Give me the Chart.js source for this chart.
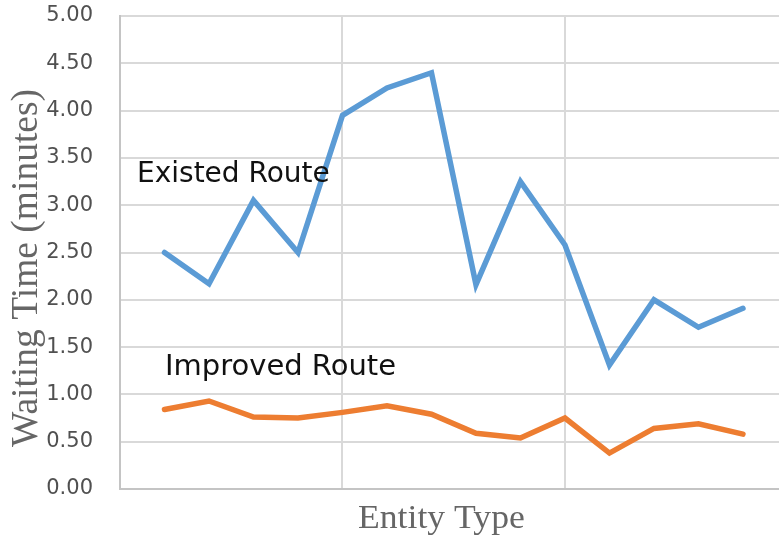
<!DOCTYPE html>
<html><head><meta charset="utf-8">
<script src="https://cdn.jsdelivr.net/npm/chart.js@4.4.1/dist/chart.umd.min.js"></script>
<style>html,body{margin:0;padding:0;background:#fff;overflow:hidden}#wrap{width:779px;height:541px;position:relative}</style>
</head><body><div id="wrap"><canvas id="c" width="779" height="541"></canvas></div>
<script>
const categories = [1, 2, 3, 4, 5, 6, 7, 8, 9, 10, 11, 12, 13, 14];
const existedRoute = [2.50, 2.17, 3.05, 2.50, 3.95, 4.24, 4.40, 2.16, 3.25, 2.58, 1.31, 2.00, 1.71, 1.91];
const improvedRoute = [0.84, 0.93, 0.76, 0.75, 0.81, 0.88, 0.79, 0.59, 0.54, 0.75, 0.38, 0.64, 0.69, 0.58];
const seriesNames = ['Existed Route', 'Improved Route'];
const xTitle = 'Entity Type';
const yTitle = 'Waiting Time (minutes)';

const textPlugin = {
  id: 'texts',
  afterDraw(chart) {
    const ctx = chart.ctx;
    ctx.save();
    ctx.fillStyle = '#111111';
    ctx.textBaseline = 'alphabetic';
    ctx.textAlign = 'left';
    ctx.font = '28px "DejaVu Sans"';
    ctx.fillText(seriesNames[0], 137, 182);
    ctx.font = '29px "DejaVu Sans"';
    ctx.fillText(seriesNames[1], 165, 375);
    ctx.fillStyle = '#666666';
    ctx.font = '33px "Liberation Serif"';
    ctx.save();
    ctx.translate(358, 528);
    ctx.scale(1.08, 1);
    ctx.fillText(xTitle, 0, 0);
    ctx.restore();
    ctx.save();
    ctx.font = '37.5px "Liberation Serif"';
    ctx.translate(37, 447);
    ctx.rotate(-Math.PI / 2);
    ctx.fillText(yTitle, 0, 0);
    ctx.restore();
    ctx.restore();
  }
};

new Chart(document.getElementById('c'), {
  type: 'line',
  data: {
    datasets: [
      {
        label: seriesNames[0],
        data: categories.map((c, i) => ({x: c, y: existedRoute[i]})),
        borderColor: '#5b9bd5',
        borderWidth: 5.5,
        borderCapStyle: 'round',
        pointRadius: 0,
        tension: 0,
        fill: false
      },
      {
        label: seriesNames[1],
        data: categories.map((c, i) => ({x: c, y: improvedRoute[i]})),
        borderColor: '#ed7d31',
        borderWidth: 5.5,
        borderCapStyle: 'round',
        pointRadius: 0,
        tension: 0,
        fill: false
      }
    ]
  },
  options: {
    responsive: false,
    animation: false,
    devicePixelRatio: 1,
    layout: {padding: {top: 16, right: 0, bottom: 52, left: 0}},
    plugins: {legend: {display: false}, tooltip: {enabled: false}},
    scales: {
      x: {
        type: 'linear',
        min: 0,
        max: 14.81,
        ticks: {display: false, stepSize: 5},
        afterBuildTicks: (s) => { s.ticks = s.ticks.filter(t => Math.abs(t.value % 5) < 1e-6); },
        afterFit: (s) => { s.height = 0; s.paddingLeft = 0; s.paddingRight = 0; },
        grid: {color: '#d9d9d9', lineWidth: 2, drawTicks: false},
        border: {display: true, color: '#c4c4c4', width: 2}
      },
      y: {
        min: 0,
        max: 5,
        ticks: {
          stepSize: 0.5,
          padding: 27,
          color: '#505050',
          font: {family: '"DejaVu Sans"', size: 21},
          callback: (v) => Number(v).toFixed(2)
        },
        afterFit: (s) => { s.width = 120; s.paddingTop = 0; s.paddingBottom = 0; },
        grid: {color: '#d9d9d9', lineWidth: 2, drawTicks: false},
        border: {display: true, color: '#c4c4c4', width: 2}
      }
    }
  },
  plugins: [textPlugin]
});
</script></body></html>
